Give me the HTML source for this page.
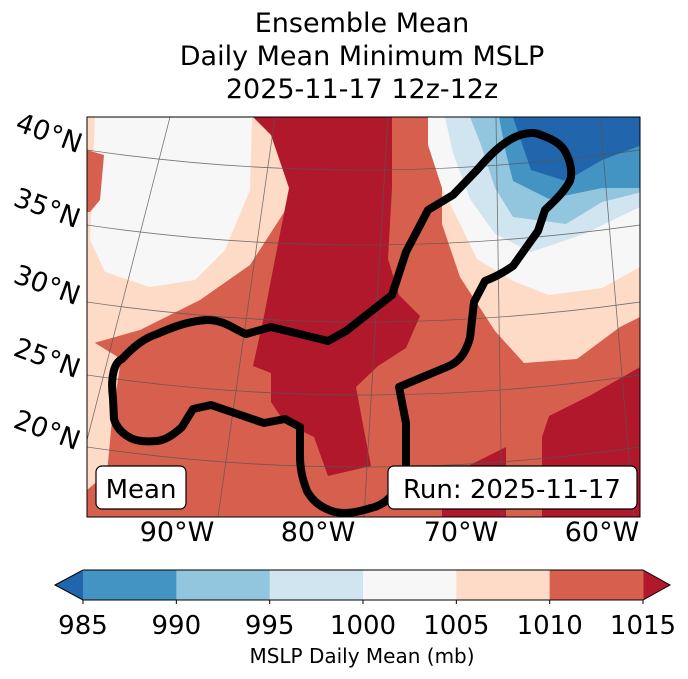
<!DOCTYPE html>
<html><head><meta charset="utf-8"><style>
body{margin:0;background:#fff;width:688px;height:674px;overflow:hidden;font-family:"Liberation Sans","DejaVu Sans",sans-serif}
svg text{font-family:"DejaVu Sans","Liberation Sans",sans-serif}
</style></head><body>
<svg width="688" height="674" viewBox="0 0 688 674">
<g font-size="27" text-anchor="middle" fill="#000">
<text x="362" y="32">Ensemble Mean</text>
<text x="362" y="65">Daily Mean Minimum MSLP</text>
<text x="362" y="98">2025-11-17 12z-12z</text>
</g>
<defs><clipPath id="mc"><rect x="87" y="117" width="553" height="400"/></clipPath></defs>
<g clip-path="url(#mc)">
<rect x="87" y="117" width="553" height="400" fill="#d6604d"/>
<polygon fill="#fddbc7" points="87,117 300,117 292,200 250,265 200,300 140,330 87,345"/>
<polygon fill="#f7f7f7" points="95,117 252,117 250,190 225,250 195,280 150,287 105,272 90,240"/>
<polygon fill="#d6604d" points="87,150 104,155 100,200 90,212 87,212"/>
<polygon fill="#fddbc7" points="87,338 121,359 112,420 107,473 87,490"/>
<polygon fill="#b2182b" points="253,117 392,117 392,188 388,259 399,295 420,316 406,348 378,366 356,387 364,430 371,466 328,476 314,437 285,423 271,402 271,373 253,366 264,316 275,259 289,188 271,135"/>
<polygon fill="#fddbc7" points="392,117 442,117 442,224 460,277 495,331 524,363 577,359 620,327 642,316 642,117"/>
<polygon fill="#f7f7f7" points="428,117 642,117 642,266 602,288 549,295 513,281 477,259 460,224 442,188 428,145"/>
<polygon fill="#d1e5f0" points="445,117 642,117 642,206 584,234 531,252 495,234 470,199 453,153"/>
<polygon fill="#92c5de" points="470,117 642,117 642,192 602,202 566,224 513,217 495,188 481,145"/>
<polygon fill="#4393c3" points="499,117 642,117 642,188 602,188 549,199 513,181 506,153"/>
<polygon fill="#2166ac" points="513,117 642,117 642,145 602,160 566,181 531,170 520,138"/>
<polygon fill="#b2182b" points="542,437 549,416 591,395 642,366 642,517 542,517"/>
<polygon fill="#b2182b" points="442,485 470,465 506,447 506,517 442,517"/>
<g stroke="#555" stroke-width="0.8" fill="none" opacity="0.8">
<path d="M87,150 Q360,190 640,150"/>
<path d="M87,225 Q360,265 640,225"/>
<path d="M87,302 Q360,342 640,302"/>
<path d="M87,375 Q360,415 640,375"/>
<path d="M87,447 Q360,487 640,447"/>
<path d="M218,517 L275,117"/>
<path d="M364,517 L388,117"/>
<path d="M502,517 L496,117"/>
<path d="M634,517 L600,117"/>
<path d="M87,440 L170,117"/>
</g>
<path fill="none" stroke="#000" stroke-width="8" stroke-linejoin="round" stroke-linecap="round" d="M113,398 C110,375 115,362 122,359 C135,345 145,338 157,334 C175,326 190,321 207,320 C225,320 235,330 246,334 L271,327 L328,341 L346,331 L392,295 L406,252 L428,210 L453,195 L477,170 C490,155 500,145 513,138 C525,132 535,132 541,135 C555,140 562,145 566,153 C572,165 572,175 570,181 C562,195 552,203 545,210 L538,231 L513,266 C500,275 492,278 485,281 L474,302 L470,338 C465,355 458,362 449,366 L399,387 L406,423 L406,473 C395,495 385,505 371,508 C355,513 345,514 335,512 C320,508 312,500 307,491 C302,478 300,468 300,455 L300,427 L285,419 L264,423 L211,405 L193,409 L182,427 C172,436 165,440 157,441 C145,442 135,441 129,437 C120,432 116,426 114,419 Z"/>
</g>
<rect x="87" y="117" width="553" height="400" fill="none" stroke="#000" stroke-width="1"/>
<g>
<rect x="96" y="466" width="90" height="43" rx="6" fill="#fff" stroke="#000" stroke-width="1.2"/>
<text x="141" y="498" font-size="26" text-anchor="middle">Mean</text>
</g>
<g>
<rect x="388" y="466" width="249" height="43" rx="6" fill="#fff" stroke="#000" stroke-width="1.2"/>
<text x="512" y="498" font-size="26" text-anchor="middle">Run: 2025-11-17</text>
</g>
<g font-size="27">
<text transform="translate(14,130) rotate(20)">40°N</text>
<text transform="translate(12,205) rotate(20)">35°N</text>
<text transform="translate(12,282) rotate(20)">30°N</text>
<text transform="translate(12,355) rotate(20)">25°N</text>
<text transform="translate(12,427) rotate(20)">20°N</text>
</g>
<g font-size="27" text-anchor="middle">
<text x="177" y="541">90°W</text>
<text x="318" y="541">80°W</text>
<text x="461" y="541">70°W</text>
<text x="602" y="541">60°W</text>
</g>
<g id="cbar"></g>
<text x="362" y="663" font-size="20" text-anchor="middle">MSLP Daily Mean (mb)</text>
</svg>
<script>
const cbTicks=[985,990,995,1000,1005,1010,1015];
const cbColors=['#4393c3','#92c5de','#d1e5f0','#f7f7f7','#fddbc7','#d6604d'];
const cbUnder='#2166ac', cbOver='#b2182b';
const NS='http://www.w3.org/2000/svg';
const g=document.getElementById('cbar');
const x0=83,x1=643,y0=570,y1=600;
const sx=v=>x0+(v-cbTicks[0])/(cbTicks[cbTicks.length-1]-cbTicks[0])*(x1-x0);
function mk(t,a){const e=document.createElementNS(NS,t);for(const k in a)e.setAttribute(k,a[k]);g.appendChild(e);return e;}
const u=mk('polygon',{points:`${x0},${y0} ${x0},${y1} 55,${(y0+y1)/2}`,fill:cbUnder});


const o=mk('polygon',{points:`${x1},${y0} ${x1},${y1} 670,${(y0+y1)/2}`,fill:cbOver});


cbColors.forEach((c,i)=>{
 const r=mk('rect',{x:sx(cbTicks[i]),y:y0,width:sx(cbTicks[i+1])-sx(cbTicks[i])+0.5,height:y1-y0,fill:c});
 
 
});
const ol=mk('polygon',{points:`55,${(y0+y1)/2} ${x0},${y0} ${x1},${y0} 670,${(y0+y1)/2} ${x1},${y1} ${x0},${y1}`,fill:'none',stroke:'#000','stroke-width':1});


cbTicks.forEach(v=>{
 const tk=mk('line',{x1:sx(v),x2:sx(v),y1:y1,y2:y1+4,stroke:'#000'});
 
 
 const t=mk('text',{x:sx(v),y:634,'font-size':26,'text-anchor':'middle'});
 t.textContent=v;
 
 
});
</script>
</body></html>
